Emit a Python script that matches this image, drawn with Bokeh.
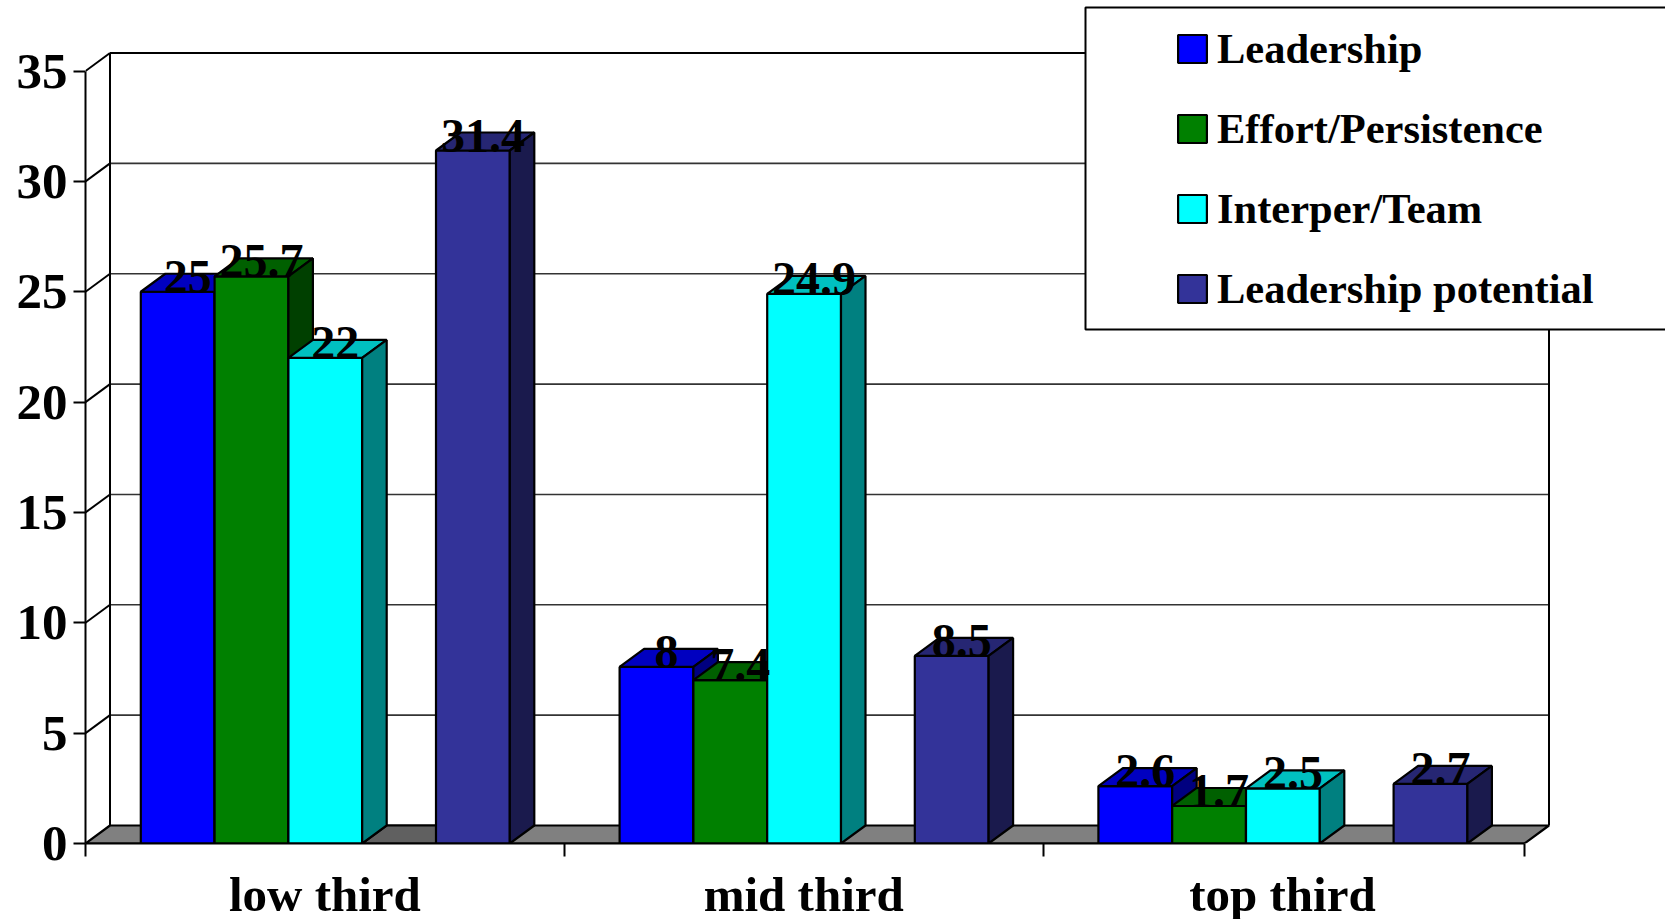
from bokeh.embed import file_html
from bokeh.resources import INLINE
from bokeh.plotting import figure
from bokeh.models import FixedTicker, Legend, LegendItem, Range1d
from bokeh.core.properties import value

# Chart data
categories = ["low third", "mid third", "top third"]
series_names = ["Leadership", "Effort/Persistence", "Interper/Team", "Leadership potential"]
leadership = [25, 8, 2.6]
effort = [25.7, 7.4, 1.7]
interper = [22, 24.9, 2.5]
potential = [31.4, 8.5, 2.7]
y_ticks = [0, 5, 10, 15, 20, 25, 30, 35]

# Colours: front, top and side face of each series
front_colors = ["#0000FF", "#008000", "#00FFFF", "#333399"]
top_colors = ["#0000C0", "#006000", "#00C0C0", "#262673"]
side_colors = ["#000080", "#004000", "#008080", "#1A1A4D"]

# Pixel layout of the drawing
W, H = 1665, 919
LEFT, BASE = 85, 843
PX_PER_CAT = 478.8
PX_PER_UNIT = 22.07

def xpx(px):
    return (px - LEFT) / PX_PER_CAT

def ypx(px):
    return (BASE - px) / PX_PER_UNIT

DX = 24.5 / PX_PER_CAT          # depth of the 3D box, along x
DY = 18 / PX_PER_UNIT           # depth of the 3D box, along y
SLOT = 73.8 / PX_PER_CAT        # one bar, with room for five per category
GAP = 55.3 / PX_PER_CAT         # space on either side of a cluster
SLOTS = [0, 1, 2, 4]            # the fourth slot of each cluster stays empty
YMAX = y_ticks[-1]
NCAT = len(categories)
XEND = xpx(1524)                # right end of the front edge

p = figure(width=W, height=H, frame_width=W - LEFT, frame_height=BASE,
           output_backend="svg", toolbar_location=None,
           x_range=Range1d(0, (W - LEFT) / PX_PER_CAT),
           y_range=Range1d(0, BASE / PX_PER_UNIT),
           min_border_left=LEFT, min_border_right=0, min_border_top=0,
           min_border_bottom=0, outline_line_color=None,
           background_fill_color="white", border_fill_color="white")
p.grid.visible = False

# Axes on the front plane
FONT = "Liberation Serif"
ya = p.yaxis[0]
ya.ticker = FixedTicker(ticks=y_ticks, minor_ticks=[])
ya.bounds = (0, YMAX)
ya.major_tick_out = 12
ya.major_tick_in = 0
ya.major_tick_line_width = 2
ya.axis_line_width = 2
ya.major_label_standoff = 6
ya.major_label_text_font = FONT
ya.major_label_text_font_style = "bold"
ya.major_label_text_font_size = "51px"
ya.major_label_text_color = "black"

xa = p.xaxis[0]
xa.ticker = FixedTicker(ticks=[i + 0.5 for i in range(NCAT)],
                        minor_ticks=list(range(NCAT)) + [XEND])
xa.major_label_overrides = {i + 0.5: c for i, c in enumerate(categories)}
xa.bounds = (0, XEND)
xa.major_tick_out = 0
xa.major_tick_in = 0
xa.minor_tick_out = 13
xa.minor_tick_in = 0
xa.minor_tick_line_width = 2
xa.axis_line_width = 2.2
xa.major_label_standoff = 10
xa.major_label_text_font = FONT
xa.major_label_text_font_style = "bold"
xa.major_label_text_font_size = "49px"
xa.major_label_text_color = "black"

# Floor of the box
p.patch([0, XEND, XEND + DX, DX], [0, 0, DY, DY], fill_color="#808080",
        line_color="black", line_width=2.2)
# Shaded floor where the empty slot of the first cluster lies
shade_left = GAP + 3 * SLOT
p.patch([shade_left, shade_left + SLOT, shade_left + SLOT + DX, shade_left + DX],
        [0, 0, DY, DY], fill_color="#606060", line_color="black", line_width=2)

# Back wall gridlines and side wall diagonals
inner = y_ticks[1:-1]
p.segment([DX] * len(inner), [t + DY for t in inner],
          [XEND + DX] * len(inner), [t + DY for t in inner],
          line_color="#333333", line_width=1.6)
p.segment([DX, XEND + DX, DX], [DY, DY, YMAX + DY],
          [DX, XEND + DX, XEND + DX], [YMAX + DY] * 3,
          line_color="black", line_width=2)
p.segment([0] * len(y_ticks[1:]), y_ticks[1:], [DX] * len(y_ticks[1:]),
          [t + DY for t in y_ticks[1:]], line_color="black", line_width=2)

# Legend frame, running off the right side of the page
p.quad(left=[xpx(1085)], right=[xpx(1700)], top=[ypx(7)], bottom=[ypx(329)],
       fill_color="white", line_color="black", line_width=2)

# The bars, one series at a time so that later faces overlap earlier ones
legend_items = []
label_x, label_y, label_text = [], [], []
for s, (name, vals) in enumerate(zip(series_names, [leadership, effort, interper, potential])):
    lefts = [g + GAP + SLOTS[s] * SLOT for g in range(NCAT)]
    rights = [x + SLOT for x in lefts]
    front = p.quad(left=lefts, right=rights, bottom=[0] * NCAT, top=vals,
                   fill_color=front_colors[s], line_color="black", line_width=2.2)
    legend_items.append(LegendItem(label=name, renderers=[front]))
    p.patches([[l, r, r + DX, l + DX] for l, r in zip(lefts, rights)],
              [[v, v, v + DY, v + DY] for v in vals],
              fill_color=top_colors[s], line_color="black", line_width=2.2)
    p.patches([[r, r + DX, r + DX, r] for r in rights],
              [[0, DY, v + DY, v] for v in vals],
              fill_color=side_colors[s], line_color="black", line_width=2.2)
    for l, v in zip(lefts, vals):
        label_x.append(l + SLOT / 2 + 10 / PX_PER_CAT)
        label_y.append(v)
        label_text.append(f"{v:g}")

# Value labels sit over every bar
p.text(label_x, label_y, text=label_text, text_font=value(FONT), text_font_style="bold",
       text_font_size="48px", text_color="black", text_align="center",
       text_baseline="alphabetic", y_offset=-15)

legend = Legend(items=legend_items, location=(1089, 530), margin=0, padding=0,
                spacing=31, glyph_width=36, glyph_height=35, label_standoff=7,
                label_text_font=FONT, label_text_font_style="bold",
                label_text_font_size="42.5px", label_text_color="black",
                background_fill_alpha=0, border_line_color=None)
p.add_layout(legend, "center")

open("out.html", "w").write(file_html(p, INLINE))
